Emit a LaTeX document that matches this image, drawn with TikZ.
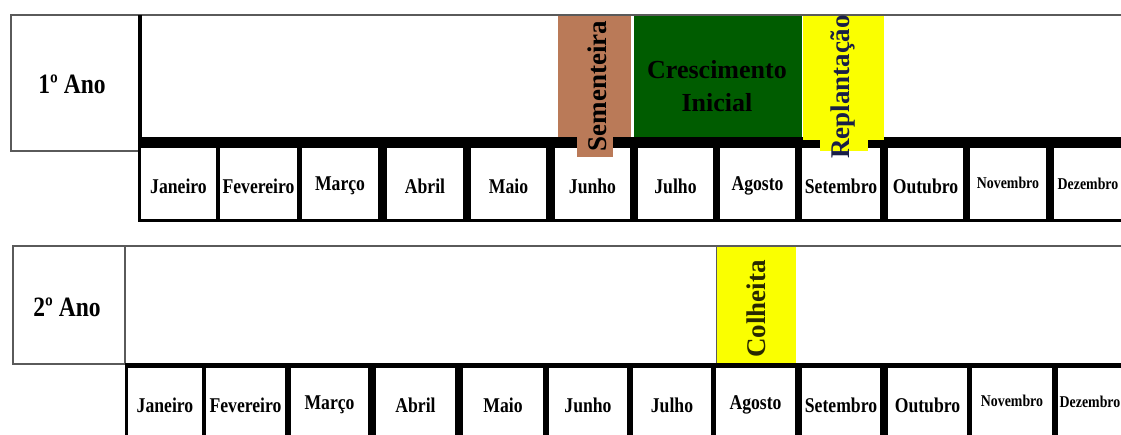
\documentclass[tikz,border=0pt]{standalone}
\usepackage{fontspec}
\setmainfont{Liberation Serif}
\usepackage{graphicx}
\definecolor{sement}{RGB}{186,122,88}
\definecolor{cresc}{RGB}{0,92,0}
\definecolor{amarelo}{RGB}{250,255,0}
\definecolor{navy}{RGB}{25,30,70}
\definecolor{olive}{RGB}{40,40,0}
\definecolor{linegray}{RGB}{90,90,90}
\tikzset{
  yearbox/.style={draw=linegray, line width=1.2pt, fill=white},
  yeartext/.style={font=\fontsize{28}{32}\selectfont\bfseries},
  monthtext/.style={font=\fontsize{21}{24}\selectfont\bfseries, inner sep=0pt},
  smallmonth/.style={font=\fontsize{16.5}{20}\selectfont\bfseries, inner sep=0pt},
  celltxt/.style={font=\fontsize{27}{32}\selectfont\bfseries, inner sep=0pt},
  cellwhite/.style={fill=white, draw=none},
}
\newcommand{\cond}[1]{\scalebox{0.84}[1]{#1}}
\begin{document}
\begin{tikzpicture}[x=1pt,y=-1pt]
\useasboundingbox (0,0) rectangle (1121,435);
\fill[white] (0,0) rectangle (1121,435);

% ---------- Row 1 ----------
\draw[yearbox] (11,15) rectangle (139,151);
\node[yeartext] (ano1) at (72,84) {\cond{1º Ano}};
\draw[linegray, line width=1.2pt] (139,15) -- (1121,15);
% black band and separators
\fill[black] (138,137) rectangle (1121,222);
\foreach \a/\b [count=\i] in {141/216,220/297,302/378,387/463,471/546,555/630,638/713,720/795,802/880,888/963,970/1046,1054/1121}{
  \fill[cellwhite] (\a,148) rectangle (\b,219);
}
\fill[black] (138,15) rectangle (142,148);
% Sementeira
\fill[sement] (558,16) rectangle (631,137);
\fill[sement] (577,137) rectangle (613,157);
% Crescimento
\fill[cresc] (634,16) rectangle (802,137);
% Replantacao
\fill[amarelo] (803,16) rectangle (884,140);
\fill[amarelo] (820,140) rectangle (868,151);

\node[celltxt, rotate=90] (sem) at (597,86) {Sementeira};
\node[celltxt, align=center, font=\fontsize{26}{33}\selectfont\bfseries] (cre) at (717,86) {Crescimento\\Inicial};
\node[celltxt, rotate=90, text=navy] (rep) at (843,87) {Replantação};

\foreach \x/\t/\n in {178.5/Janeiro/ja1,258.5/Fevereiro/fe1,340/Março/ma1,425/Abril/ab1,508.5/Maio/mi1,592.5/Junho/jn1,675.5/Julho/jl1,757.5/Agosto/ag1,841/Setembro/se1,925.5/Outubro/ou1}{
  \node[monthtext] (\n) at (\x,186) {\cond{\t}};
}
\node[smallmonth] (no1) at (1008,183) {\cond{Novembro}};
\node[smallmonth] (de1) at (1088,184) {\cond{Dezembro}};

% ---------- Row 2 ----------
\draw[yearbox] (13,246) rectangle (125,364);
\node[yeartext] (ano2) at (67,307) {\cond{2º Ano}};
\draw[linegray, line width=1.2pt] (125,246) -- (1121,246);
\fill[black] (125,363) rectangle (1121,435);
\foreach \a/\b in {128/202,206/285,291/368,376/455,463/543,549/627,633/711,716/795,802/880,888/967,972/1052,1058/1121}{
  \fill[cellwhite] (\a,368) rectangle (\b,436);
}
% Colheita
\fill[amarelo] (716,247) rectangle (796,363);
\draw[linegray, line width=0.8pt] (716,247) -- (716,363);
\node[celltxt, rotate=90, text=olive] (col) at (756,309) {Colheita};

\foreach \x/\t/\n in {165/Janeiro/ja2,245.5/Fevereiro/fe2,329.5/Março/ma2,415.5/Abril/ab2,503/Maio/mi2,588/Junho/jn2,672/Julho/jl2,755.5/Agosto/ag2,841/Setembro/se2,927.5/Outubro/ou2}{
  \node[monthtext] (\n) at (\x,405) {\cond{\t}};
}
\node[smallmonth] (no2) at (1012,401) {\cond{Novembro}};
\node[smallmonth] (de2) at (1090,402) {\cond{Dezembro}};
\end{tikzpicture}
\end{document}
